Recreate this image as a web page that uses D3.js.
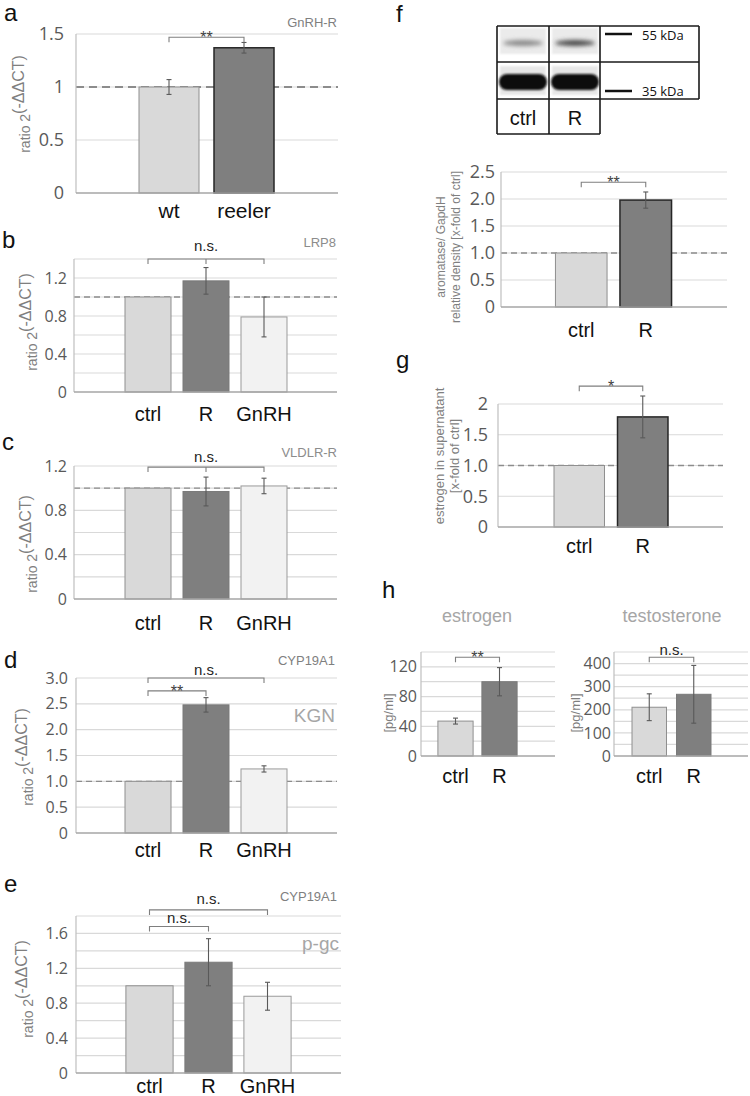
<!DOCTYPE html>
<html><head><meta charset="utf-8">
<script src="https://cdn.jsdelivr.net/npm/d3@7"></script>
<style>body{margin:0;background:#fff} svg{display:block}</style>
</head><body>
<svg id="c" width="750" height="1096"></svg>
<script>
// ---------- data ----------
const catsA = ["wt", "reeler"];
const valsA = [1.0, 1.37];
const errA  = [0.07, 0.05];

const cats3 = ["ctrl", "R", "GnRH"];
const valsB = [1.0, 1.17, 0.79]; const errB = [0, 0.14, 0.21];
const valsC = [1.0, 0.97, 1.02]; const errC = [0, 0.13, 0.07];
const valsD = [1.0, 2.48, 1.24]; const errD = [0, 0.14, 0.06];
const valsE = [1.0, 1.27, 0.88]; const errE = [0, 0.27, 0.16];

const cats2 = ["ctrl", "R"];
const valsF  = [1.0, 1.98]; const errF  = [0, 0.15];
const valsG  = [1.0, 1.79]; const errG  = [0, 0.34];
const valsHe = [47, 100];   const errHe = [4, 19];
const valsHt = [211, 267];  const errHt = [58, 125];

const ticksA = [0, 0.5, 1, 1.5];           const tickLabA = ["0", "0.5", "1", "1.5"];
const ticksB = [0, 0.4, 0.8, 1.2];         const tickLabB = ["0", "0.4", "0.8", "1.2"];
const ticksD = [0, 0.5, 1, 1.5, 2, 2.5, 3]; const tickLabD = ["0", "0.5", "1.0", "1.5", "2.0", "2.5", "3.0"];
const ticksE = [0, 0.4, 0.8, 1.2, 1.6];    const tickLabE = ["0", "0.4", "0.8", "1.2", "1.6"];
const ticksF = [0, 0.5, 1, 1.5, 2, 2.5];   const tickLabF = ["0", "0.5", "1.0", "1.5", "2.0", "2.5"];
const ticksG = [0, 0.5, 1, 1.5, 2];        const tickLabG = ["0", "0.5", "1.0", "1.5", "2"];
const ticksHe = [0, 40, 80, 120];          const tickLabHe = ["0", "40", "80", "120"];
const ticksHt = [0, 100, 200, 300, 400];   const tickLabHt = ["0", "100", "200", "300", "400"];

// ---------- styles ----------
const LIGHT = {fill: "#d9d9d9", stroke: "#8f8f8f", sw: 1};
const DARK  = {fill: "#7f7f7f", stroke: "#7a7a7a", sw: 1};
const DARKB = {fill: "#7f7f7f", stroke: "#262626", sw: 1.5};
const PALE  = {fill: "#f2f2f2", stroke: "#9a9a9a", sw: 1};
const SANS = "'Liberation Sans', Arial, sans-serif";
const TICKF = "'Open Sans', 'Liberation Sans', sans-serif";

const svg = d3.select("#c");
const defs = svg.append("defs");
defs.append("filter").attr("id", "blur1").attr("x", "-20%").attr("y", "-50%").attr("width", "140%").attr("height", "200%")
  .append("feGaussianBlur").attr("stdDeviation", 1.3);
defs.append("filter").attr("id", "blur2").attr("x", "-20%").attr("y", "-80%").attr("width", "140%").attr("height", "260%")
  .append("feGaussianBlur").attr("stdDeviation", 2);

function panel(cfg) {
  const g = svg.append("g");
  const y = d3.scaleLinear().domain([0, cfg.max]).range([cfg.bottom, cfg.top]);
  const x = d3.scaleBand().domain(cfg.cats).range(cfg.band).paddingInner(cfg.pad).paddingOuter(cfg.pad / 2);

  const grid = d3.range(0, cfg.max + cfg.gridStep / 2, cfg.gridStep).filter(v => v > 0);
  g.append("g").selectAll("line").data(grid).join("line")
    .attr("x1", cfg.left).attr("x2", cfg.right)
    .attr("y1", d => y(d)).attr("y2", d => y(d))
    .attr("stroke", "#d9d9d9").attr("stroke-width", 1.2);

  if (cfg.dashed) {
    g.append("line").attr("x1", cfg.left).attr("x2", cfg.right)
      .attr("y1", y(1)).attr("y2", y(1))
      .attr("stroke", "#8c8c8c").attr("stroke-width", cfg.dashW || 1.4)
      .attr("stroke-dasharray", cfg.dashA || "6,4");
  }

  g.append("g").selectAll("rect").data(cfg.vals).join("rect")
    .attr("x", (d, i) => x(cfg.cats[i]))
    .attr("width", x.bandwidth())
    .attr("y", d => y(d))
    .attr("height", d => y(0) - y(d))
    .attr("fill", (d, i) => cfg.styles[i].fill)
    .attr("stroke", (d, i) => cfg.styles[i].stroke)
    .attr("stroke-width", (d, i) => cfg.styles[i].sw);

  const eg = g.append("g").attr("stroke", "#595959").attr("stroke-width", 1.1);
  cfg.vals.forEach((v, i) => {
    const e = cfg.errs[i];
    if (!e) return;
    const cx = x(cfg.cats[i]) + x.bandwidth() / 2;
    eg.append("line").attr("x1", cx).attr("x2", cx).attr("y1", y(v + e)).attr("y2", y(v - e));
    eg.append("line").attr("x1", cx - 2.5).attr("x2", cx + 2.5).attr("y1", y(v + e)).attr("y2", y(v + e));
    eg.append("line").attr("x1", cx - 2.5).attr("x2", cx + 2.5).attr("y1", y(v - e)).attr("y2", y(v - e));
  });

  g.append("line").attr("x1", cfg.left).attr("x2", cfg.left).attr("y1", cfg.top).attr("y2", cfg.bottom)
    .attr("stroke", "#bfbfbf").attr("stroke-width", 1.2);
  g.append("line").attr("x1", cfg.left).attr("x2", cfg.right).attr("y1", cfg.bottom).attr("y2", cfg.bottom)
    .attr("stroke", "#a6a6a6").attr("stroke-width", 1.6);

  const ax = d3.axisLeft(y).tickValues(cfg.ticks).tickFormat((d, i) => cfg.tickLabels[i]).tickSize(0).tickPadding(0);
  const axg = g.append("g").attr("transform", `translate(${cfg.left - cfg.tickDx},0)`).call(ax);
  axg.select(".domain").remove();
  axg.selectAll("text").attr("font-family", TICKF).attr("font-size", cfg.tickFs).attr("fill", "#595959");

  g.append("g").selectAll("text").data(cfg.cats).join("text")
    .attr("x", d => x(d) + x.bandwidth() / 2)
    .attr("y", cfg.catY)
    .attr("text-anchor", "middle")
    .attr("font-family", SANS).attr("font-size", cfg.catFs || 20).attr("fill", "#111")
    .text(d => d);

  (cfg.brackets || []).forEach(b => {
    const x1 = x(cfg.cats[b.from]) + x.bandwidth() / 2;
    const x2 = x(cfg.cats[b.to]) + x.bandwidth() / 2;
    const yy = y(b.at);
    const path = d3.path();
    path.moveTo(x1, yy + 5); path.lineTo(x1, yy); path.lineTo(x2, yy); path.lineTo(x2, yy + 5);
    if (b.mid != null) {
      const xm = x(cfg.cats[b.mid]) + x.bandwidth() / 2;
      path.moveTo(xm, yy); path.lineTo(xm, yy + 5);
    }
    g.append("path").attr("d", path.toString()).attr("fill", "none").attr("stroke", "#7f7f7f").attr("stroke-width", 1.1);
    const star = b.label.indexOf("*") >= 0;
    g.append("text").attr("x", (x1 + x2) / 2 + (b.dx || 0))
      .attr("y", star ? yy + 6 : yy - (b.off || 4))
      .attr("text-anchor", "middle")
      .attr("font-family", SANS).attr("font-size", star ? 16 : 15)
      .attr("fill", star ? "#404040" : "#262626")
      .text(b.label);
  });
  return {g, x, y};
}

function letter(t, x, y) {
  svg.append("text").attr("x", x).attr("y", y).attr("font-family", SANS).attr("font-size", 24).attr("fill", "#111").text(t);
}
function grayLabel(t, x, y, fs, col) {
  svg.append("text").attr("x", x).attr("y", y).attr("text-anchor", "end")
    .attr("font-family", SANS).attr("font-size", fs).attr("fill", col).text(t);
}
function ratioTitle(x, y) {
  const t = svg.append("text").attr("transform", `translate(${x},${y}) rotate(-90)`)
    .attr("text-anchor", "middle").attr("font-family", SANS).attr("fill", "#7f7f7f");
  t.append("tspan").attr("font-size", 14).text("ratio 2");
  t.append("tspan").attr("font-size", 16).attr("dy", -6).text("(-ΔΔCT)");
}
function multiTitle(lines, xs, y, fs) {
  lines.forEach((l, i) => {
    svg.append("text").attr("transform", `translate(${xs[i]},${y}) rotate(-90)`)
      .attr("text-anchor", "middle").attr("font-family", SANS).attr("font-size", fs)
      .attr("fill", "#7f7f7f").text(l);
  });
}

// ---------- panel a ----------
letter("a", 4, 21);
panel({cats: catsA, vals: valsA, errs: errA, left: 76, right: 338, top: 34, bottom: 193, max: 1.5, gridStep: 0.5,
  ticks: ticksA, tickLabels: tickLabA, tickDx: 12, tickFs: 18, band: [131.5, 281.5], pad: 0.2,
  styles: [LIGHT, DARKB], dashed: true, dashW: 2, dashA: "8,5", catY: 218, catFs: 21,
  brackets: [{from: 0, to: 1, at: 1.47, label: "**"}]});
grayLabel("GnRH-R", 337, 27, 13, "#7f7f7f");
ratioTitle(30, 104);

// ---------- panel b ----------
letter("b", 2, 248);
panel({cats: cats3, vals: valsB, errs: errB, left: 74, right: 337, top: 259, bottom: 392, max: 1.4, gridStep: 0.2,
  ticks: ticksB, tickLabels: tickLabB, tickDx: 7, tickFs: 16, band: [119, 293], pad: 0.207,
  styles: [LIGHT, DARK, PALE], dashed: true, catY: 421,
  brackets: [{from: 0, to: 2, mid: 1, at: 1.4, label: "n.s.", off: 8}]});
grayLabel("LRP8", 336, 247, 13, "#8c8c8c");
ratioTitle(37, 322);

// ---------- panel c ----------
letter("c", 2, 450);
panel({cats: cats3, vals: valsC, errs: errC, left: 74, right: 337, top: 466, bottom: 599, max: 1.2, gridStep: 0.2,
  ticks: ticksB, tickLabels: tickLabB, tickDx: 7, tickFs: 16, band: [119, 293], pad: 0.207,
  styles: [LIGHT, DARK, PALE], dashed: true, catY: 630,
  brackets: [{from: 0, to: 2, mid: 1, at: 1.19, label: "n.s.", off: 5}]});
grayLabel("VLDLR-R", 337, 457, 13, "#8c8c8c");
ratioTitle(37, 544);

// ---------- panel d ----------
letter("d", 4, 668);
panel({cats: cats3, vals: valsD, errs: errD, left: 76, right: 337, top: 678, bottom: 833, max: 3, gridStep: 0.5,
  ticks: ticksD, tickLabels: tickLabD, tickDx: 8, tickFs: 16, band: [119, 293], pad: 0.207,
  styles: [LIGHT, DARK, PALE], dashed: true, catY: 857,
  brackets: [{from: 0, to: 2, at: 3.0, label: "n.s.", off: 3}, {from: 0, to: 1, at: 2.75, label: "**"}]});
grayLabel("CYP19A1", 335, 665, 13, "#7f7f7f");
grayLabel("KGN", 335, 722, 19, "#a6a6a6");
ratioTitle(33, 757);

// ---------- panel e ----------
letter("e", 4, 892);
panel({cats: cats3, vals: valsE, errs: errE, left: 76, right: 341, top: 916, bottom: 1073, max: 1.8, gridStep: 0.2,
  ticks: ticksE, tickLabels: tickLabE, tickDx: 8, tickFs: 16, band: [120, 297], pad: 0.2,
  styles: [LIGHT, DARK, PALE], dashed: false, catY: 1093,
  brackets: [{from: 0, to: 2, at: 1.87, label: "n.s.", off: 6}, {from: 0, to: 1, at: 1.68, label: "n.s.", off: 3}]});
grayLabel("CYP19A1", 337, 901, 13, "#7f7f7f");
grayLabel("p-gc", 339, 950, 19, "#a6a6a6");
ratioTitle(33, 989);

// ---------- panel f ----------
letter("f", 396, 22);
(function blot() {
  const bg = svg.append("g");
  const lanes = [497, 549];
  const topBand = ["#8a8a8a", "#4a4a4a"];
  lanes.forEach((lx, i) => {
    bg.append("rect").attr("x", lx + 3).attr("y", 28).attr("width", 46).attr("height", 26)
      .attr("fill", "#ebebeb").attr("filter", "url(#blur1)");
    bg.append("ellipse").attr("cx", lx + 26).attr("cy", 43).attr("rx", 20).attr("ry", 3)
      .attr("fill", topBand[i]).attr("filter", "url(#blur2)");
    bg.append("rect").attr("x", lx + 3).attr("y", 66).attr("width", 46).attr("height", 29)
      .attr("fill", "#e6e6e6").attr("filter", "url(#blur1)");
    bg.append("rect").attr("x", lx + 2).attr("y", 74).attr("width", 48).attr("height", 16).attr("rx", 8)
      .attr("fill", "#0d0d0d").attr("filter", "url(#blur1)");
  });
  const L = (x1, y1, x2, y2) => bg.append("line").attr("x1", x1).attr("y1", y1).attr("x2", x2).attr("y2", y2)
    .attr("stroke", "#1a1a1a").attr("stroke-width", 1.6);
  L(497, 26, 699, 26); L(497, 62, 699, 62); L(497, 99, 699, 99); L(497, 134, 600, 134);
  L(497, 26, 497, 134); L(549, 26, 549, 134); L(600, 26, 600, 134); L(699, 26, 699, 99);
  bg.append("line").attr("x1", 605).attr("x2", 632).attr("y1", 34).attr("y2", 34).attr("stroke", "#111").attr("stroke-width", 2.5);
  bg.append("line").attr("x1", 605).attr("x2", 632).attr("y1", 91).attr("y2", 91).attr("stroke", "#111").attr("stroke-width", 2.5);
  bg.append("text").attr("x", 642).attr("y", 40).attr("font-family", "'Open Sans', sans-serif").attr("font-size", 13).attr("fill", "#111").text("55 kDa");
  bg.append("text").attr("x", 642).attr("y", 96).attr("font-family", "'Open Sans', sans-serif").attr("font-size", 13).attr("fill", "#111").text("35 kDa");
  cats2.forEach((c, i) => {
    bg.append("text").attr("x", lanes[i] + 26).attr("y", 125).attr("text-anchor", "middle")
      .attr("font-family", SANS).attr("font-size", 20).attr("fill", "#111").text(c);
  });
})();
panel({cats: cats2, vals: valsF, errs: errF, left: 501, right: 727, top: 172, bottom: 307, max: 2.5, gridStep: 0.5,
  ticks: ticksF, tickLabels: tickLabF, tickDx: 6, tickFs: 18, band: [549, 678], pad: 0.2,
  styles: [LIGHT, DARKB], dashed: true, catY: 337,
  brackets: [{from: 0, to: 1, at: 2.31, label: "**"}]});
multiTitle(["aromatase/ GapdH", "relative density [x-fold of ctrl]"], [445, 460], 247, 12);

// ---------- panel g ----------
letter("g", 396, 368);
panel({cats: cats2, vals: valsG, errs: errG, left: 498, right: 723, top: 404, bottom: 527, max: 2, gridStep: 0.5,
  ticks: ticksG, tickLabels: tickLabG, tickDx: 10, tickFs: 18, band: [547.5, 674.5], pad: 0.205,
  styles: [LIGHT, DARKB], dashed: true, catY: 553,
  brackets: [{from: 0, to: 1, at: 2.29, label: "*"}]});
multiTitle(["estrogen  in supernatant", "[x-fold of  ctrl]"], [444, 459], 456, 13);

// ---------- panel h ----------
letter("h", 382, 598);
svg.append("text").attr("x", 477).attr("y", 622).attr("text-anchor", "middle").attr("font-family", SANS)
  .attr("font-size", 18).attr("fill", "#a6a6a6").text("estrogen");
svg.append("text").attr("x", 672).attr("y", 622).attr("text-anchor", "middle").attr("font-family", SANS)
  .attr("font-size", 18).attr("fill", "#a6a6a6").text("testosterone");
panel({cats: cats2, vals: valsHe, errs: errHe, left: 421, right: 555, top: 652, bottom: 756, max: 140, gridStep: 20,
  ticks: ticksHe, tickLabels: tickLabHe, tickDx: 4, tickFs: 16, band: [433.5, 521.5], pad: 0.2,
  styles: [LIGHT, DARK], dashed: false, catY: 783,
  brackets: [{from: 0, to: 1, at: 133, label: "**"}]});
multiTitle(["[pg/ml]"], [393], 713, 13);
panel({cats: cats2, vals: valsHt, errs: errHt, left: 614, right: 748, top: 652, bottom: 756, max: 450, gridStep: 50,
  ticks: ticksHt, tickLabels: tickLabHt, tickDx: 3, tickFs: 16, band: [627, 716], pad: 0.225,
  styles: [LIGHT, DARK], dashed: false, catY: 783,
  brackets: [{from: 0, to: 1, at: 427, label: "n.s.", off: 2}]});
multiTitle(["[pg/ml]"], [580], 713, 13);
</script>
</body></html>
